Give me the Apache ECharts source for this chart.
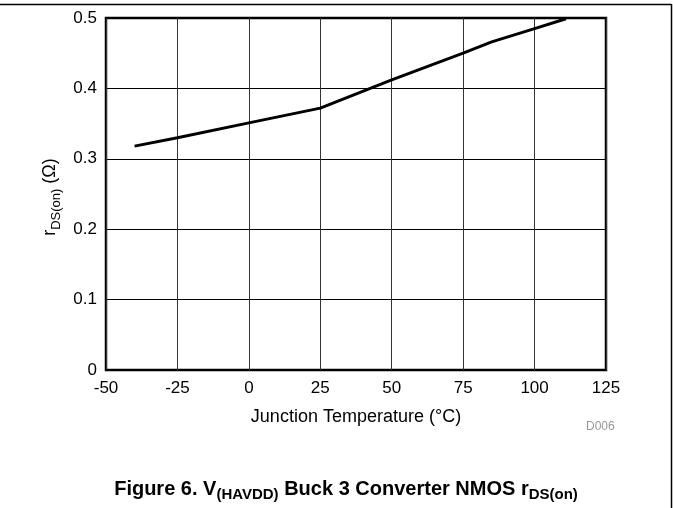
<!DOCTYPE html>
<html>
<head>
<meta charset="utf-8">
<script src="https://cdn.jsdelivr.net/npm/echarts@6/dist/echarts.min.js"></script>
<style>html,body{margin:0;padding:0;background:#fff}#c{width:673px;height:508px}</style>
</head>
<body>
<div id="c"></div>
<script>
// ---- data ----
const temperature = [-40, -25, 0, 25, 50, 75, 85, 100, 111];
const rdsOn = [0.318, 0.330, 0.351, 0.372, 0.412, 0.450, 0.466, 0.485, 0.499];
const xTitle = 'Junction Temperature (\u00B0C)';
const yTitleParts = ['r', 'DS(on)', ' (\u03A9)'];
const captionParts = ['Figure 6. V', '(HAVDD)', ' Buck 3 Converter NMOS r', 'DS(on)'];
const codeLabel = 'D006';

const FONT = 'Liberation Sans, Arial, sans-serif';
const mctx = document.createElement('canvas').getContext('2d');
function tw(t, size, bold) { mctx.font = (bold ? 'bold ' : '') + size + 'px ' + FONT; return mctx.measureText(t).width; }

function run(parts, base, sub, bold, dy) {
  const kids = []; let x = 0;
  parts.forEach((t, i) => {
    const isSub = i % 2 === 1;
    const size = isSub ? sub : base;
    kids.push({ type: 'text', x: x, y: isSub ? dy : 0,
      style: { text: t, font: (bold ? 'bold ' : '') + size + 'px ' + FONT, fill: '#000', textVerticalAlign: 'middle', textAlign: 'left' } });
    x += tw(t, size, bold);
  });
  return { kids, width: x };
}

const yt = run(yTitleParts, 18, 13, false, 6);
const cap = run(captionParts, 20, 15, true, 6);

const chart = echarts.init(document.getElementById('c'), null, { renderer: 'canvas' });
chart.setOption({
  animation: false,
  grid: { left: 106, top: 18, width: 500, height: 352, show: true, borderColor: '#000', borderWidth: 2.5, backgroundColor: 'transparent' },
  xAxis: {
    type: 'value', min: -50, max: 125, interval: 25,
    axisLine: { show: false }, axisTick: { show: false },
    splitLine: { show: true, lineStyle: { color: '#333', width: 1 } },
    axisLabel: { color: '#000', fontSize: 17, fontFamily: FONT, margin: 10 },
    name: xTitle, nameLocation: 'middle', nameGap: 38,
    nameTextStyle: { color: '#000', fontSize: 18, fontFamily: FONT }
  },
  yAxis: {
    type: 'value', min: 0, max: 0.5, interval: 0.1,
    axisLine: { show: false }, axisTick: { show: false },
    splitLine: { show: true, lineStyle: { color: '#000', width: 1 } },
    axisLabel: { color: '#000', fontSize: 17, fontFamily: FONT, margin: 9, formatter: v => v === 0 ? '0' : v.toFixed(1) }
  },
  series: [{
    type: 'line', data: temperature.map((t, i) => [t, rdsOn[i]]),
    showSymbol: false, lineStyle: { color: '#000', width: 3 }, z: 5
  }],
  graphic: [
    { type: 'line', shape: { x1: 0, y1: 4.5, x2: 671.5, y2: 4.5 }, style: { stroke: '#000', lineWidth: 1.5 } },
    { type: 'line', shape: { x1: 671.5, y1: 4, x2: 671.5, y2: 508 }, style: { stroke: '#000', lineWidth: 1.5 } },
    { type: 'text', left: 586, top: 421, style: { text: codeLabel, font: '12px ' + FONT, fill: '#999' } },
    { type: 'group', x: 50, y: 197 + yt.width / 2, rotation: Math.PI / 2, children: yt.kids },
    { type: 'group', x: 346 - cap.width / 2, y: 489, children: cap.kids }
  ]
});
</script>
</body>
</html>
